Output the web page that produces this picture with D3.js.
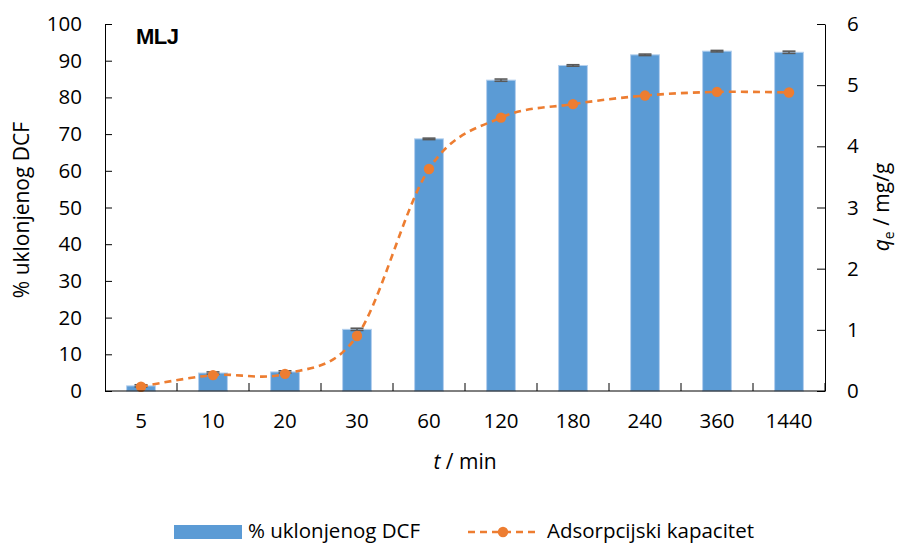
<!DOCTYPE html>
<html>
<head>
<meta charset="utf-8">
<script src="https://cdn.jsdelivr.net/npm/d3@7"></script>
<style>
html,body{margin:0;padding:0;background:#fff;}
svg{display:block;font-family:"Open Sans",sans-serif;}
</style>
</head>
<body>
<svg id="chart" width="899" height="543"></svg>
<script>
// ---- data ----
const categories = ["5","10","20","30","60","120","180","240","360","1440"];
const removal = [1.4, 4.9, 5.2, 16.8, 68.7, 84.7, 88.7, 91.6, 92.6, 92.3];
const removalErr = [0.3, 0.3, 0.3, 0.3, 0.2, 0.3, 0.2, 0.2, 0.2, 0.3];
const capacity = [0.07, 0.26, 0.28, 0.90, 3.63, 4.47, 4.69, 4.83, 4.89, 4.88];
const leftTicks = [0,10,20,30,40,50,60,70,80,90,100];
const rightTicks = [0,1,2,3,4,5,6];

const svg = d3.select("#chart");
const L = 105, R = 825, T = 24, B = 391;
const blue = "#5B9BD5", orange = "#ED7D31";

const x = d3.scaleBand().domain(categories).range([L, R]).paddingInner(0.6).paddingOuter(0.3);
const xb = d3.scaleBand().domain(categories).range([L, R]);
const yL = d3.scaleLinear().domain([0, 100]).range([B, T]);
const yR = d3.scaleLinear().domain([0, 6]).range([B, T]);

// bars
svg.append("g").selectAll("rect").data(categories).join("rect")
  .attr("x", d => x(d))
  .attr("width", x.bandwidth())
  .attr("y", (d, i) => yL(removal[i]))
  .attr("height", (d, i) => B - yL(removal[i]))
  .attr("fill", blue)
  .attr("stroke", "#b4d0ee")
  .attr("stroke-width", 1);

// error bars
const eb = svg.append("g").attr("stroke", "#595959").attr("stroke-width", 1.6);
categories.forEach((c, i) => {
  const cx = xb(c) + xb.bandwidth() / 2;
  const y1 = yL(removal[i] + removalErr[i]), y2 = yL(removal[i] - removalErr[i]);
  eb.append("line").attr("x1", cx).attr("x2", cx).attr("y1", y1).attr("y2", y2);
  eb.append("line").attr("x1", cx - 6.5).attr("x2", cx + 6.5).attr("y1", y1).attr("y2", y1);
  eb.append("line").attr("x1", cx - 6.5).attr("x2", cx + 6.5).attr("y1", y2).attr("y2", y2);
});

// line
const pts = categories.map((c, i) => [xb(c) + xb.bandwidth() / 2, yR(capacity[i])]);
svg.append("path")
  .attr("d", d3.line().curve(d3.curveCatmullRom.alpha(0))(pts))
  .attr("fill", "none").attr("stroke", orange).attr("stroke-width", 2.6)
  .attr("stroke-dasharray", "7,5");
svg.append("g").selectAll("circle").data(pts).join("circle")
  .attr("cx", d => d[0]).attr("cy", d => d[1]).attr("r", 5.2).attr("fill", orange);

// axes
const axisStyle = g => {
  g.selectAll("path.domain").attr("stroke", "#000");
  g.selectAll(".tick line").attr("stroke", "#000");
  g.selectAll(".tick text").attr("font-family", "Open Sans").attr("font-size", 20.5).attr("fill", "#000");
};
svg.append("g").attr("transform", `translate(${L},0)`)
  .call(d3.axisLeft(yL).tickValues(leftTicks).tickFormat(d3.format("d")).tickSize(-7).tickSizeOuter(0).tickPadding(23))
  .call(axisStyle);
svg.append("g").attr("transform", `translate(${R},0)`)
  .call(d3.axisRight(yR).tickValues(rightTicks).tickFormat(d3.format("d")).tickSize(-8).tickSizeOuter(0).tickPadding(22))
  .call(axisStyle);
const xAxis = svg.append("g").attr("transform", `translate(0,${B})`)
  .call(d3.axisBottom(xb).tickSize(0).tickSizeOuter(0).tickPadding(22))
  .call(axisStyle);
xAxis.select("path.domain").attr("d", `M${L},0H${R}`);
// boundary ticks
svg.append("g").selectAll("line").data(categories.slice(1)).join("line")
  .attr("x1", d => xb(d)).attr("x2", d => xb(d))
  .attr("y1", B).attr("y2", B - 8).attr("stroke", "#000");
svg.append("line").attr("x1", R).attr("x2", R).attr("y1", B).attr("y2", B - 8).attr("stroke", "#000");

// titles
svg.append("text").attr("x", 136).attr("y", 44)
  .attr("font-family", "Liberation Sans").attr("font-weight", "bold").attr("font-size", 22)
  .attr("letter-spacing", -0.5).text("MLJ");

const xt = svg.append("text").attr("x", 465).attr("y", 469).attr("text-anchor", "middle")
  .attr("font-size", 21);
xt.append("tspan").attr("font-style", "italic").text("t");
xt.append("tspan").text(" / min");

svg.append("text").attr("transform", "translate(29,210) rotate(-90)")
  .attr("text-anchor", "middle").attr("font-size", 21).text("% uklonjenog DCF");

const rt = svg.append("text").attr("transform", "translate(889,207) rotate(-90)")
  .attr("text-anchor", "middle").attr("font-size", 21);
rt.append("tspan").attr("font-style", "italic").text("q");
rt.append("tspan").attr("font-size", 14).attr("dy", 5).text("e");
rt.append("tspan").attr("dy", -5).text(" / mg/g");

// legend
svg.append("rect").attr("x", 174).attr("y", 525).attr("width", 68).attr("height", 14).attr("fill", blue);
svg.append("text").attr("x", 248).attr("y", 538).attr("font-size", 20.5).text("% uklonjenog DCF");
svg.append("line").attr("x1", 468).attr("x2", 538).attr("y1", 532).attr("y2", 532)
  .attr("stroke", orange).attr("stroke-width", 2.6).attr("stroke-dasharray", "7,5");
svg.append("circle").attr("cx", 503).attr("cy", 532).attr("r", 5.2).attr("fill", orange);
svg.append("text").attr("x", 547).attr("y", 538).attr("font-size", 20.5).text("Adsorpcijski kapacitet");
</script>
</body>
</html>
